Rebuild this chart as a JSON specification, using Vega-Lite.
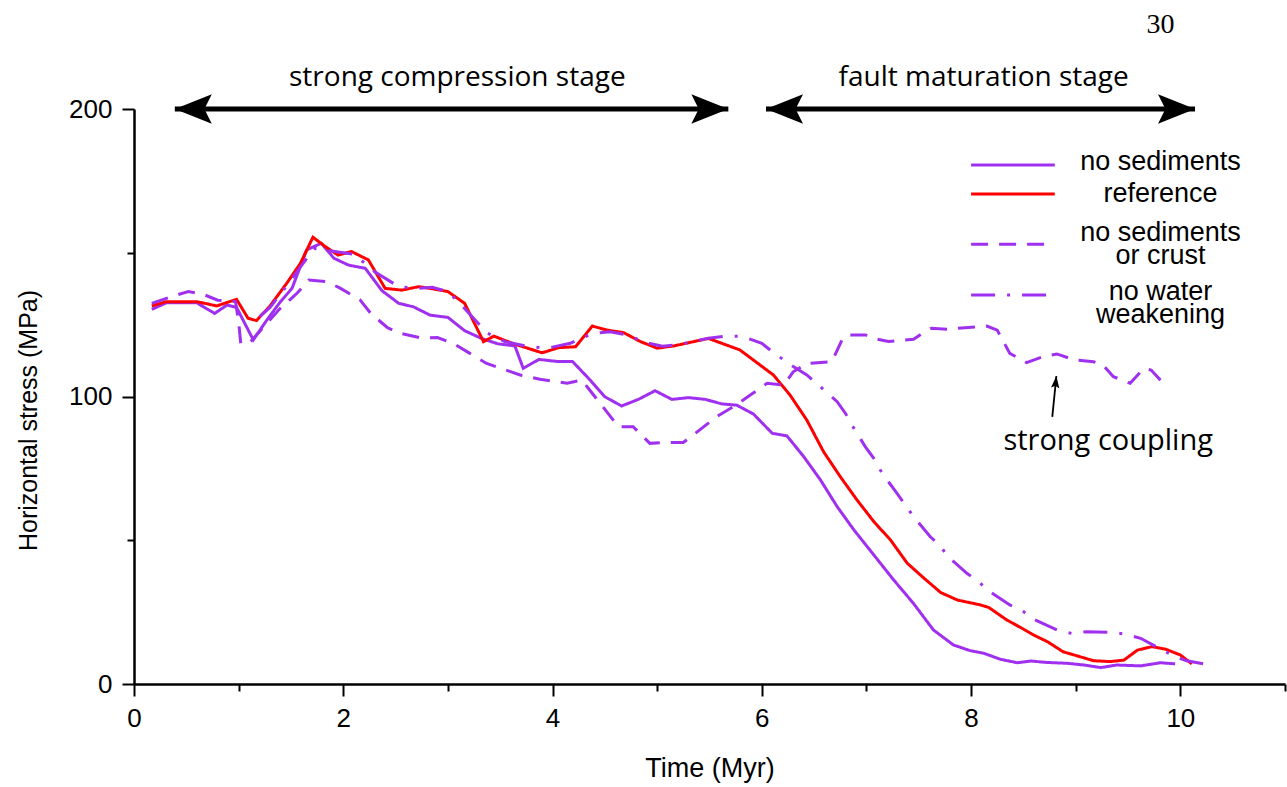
{
  "$schema": "https://vega.github.io/schema/vega-lite/v6.json",
  "width": 1151,
  "height": 575,
  "autosize": "none",
  "padding": {"left": 134, "top": 109, "right": 2, "bottom": 103},
  "background": "white",
  "config": {
    "view": {"stroke": null},
    "font": "Liberation Sans",
    "axis": {"labelFont": "Liberation Sans", "labelFontSize": 26, "titleFont": "Liberation Sans", "titleFontSize": 26, "titleFontWeight": "normal", "labelColor": "black", "titleColor": "black", "grid": false}
  },
  "datasets": {
    "series": [
      {"series":"no sediments","t":0.17,"stress":130.3},{"series":"no sediments","t":0.31,"stress":132.6},{"series":"no sediments","t":0.6,"stress":132.6},{"series":"no sediments","t":0.77,"stress":128.9},{"series":"no sediments","t":0.89,"stress":131.8},{"series":"no sediments","t":0.98,"stress":131.0},{"series":"no sediments","t":1.14,"stress":119.7},{"series":"no sediments","t":1.27,"stress":126.6},{"series":"no sediments","t":1.4,"stress":133.0},{"series":"no sediments","t":1.51,"stress":137.6},{"series":"no sediments","t":1.65,"stress":151.0},{"series":"no sediments","t":1.79,"stress":153.3},{"series":"no sediments","t":1.91,"stress":148.1},{"series":"no sediments","t":2.05,"stress":145.7},{"series":"no sediments","t":2.21,"stress":144.6},{"series":"no sediments","t":2.37,"stress":136.8},{"series":"no sediments","t":2.53,"stress":132.4},{"series":"no sediments","t":2.67,"stress":131.2},{"series":"no sediments","t":2.83,"stress":128.3},{"series":"no sediments","t":3.0,"stress":127.5},{"series":"no sediments","t":3.16,"stress":122.9},{"series":"no sediments","t":3.32,"stress":120.2},{"series":"no sediments","t":3.48,"stress":118.3},{"series":"no sediments","t":3.64,"stress":117.6},{"series":"no sediments","t":3.72,"stress":109.8},{"series":"no sediments","t":3.87,"stress":112.9},{"series":"no sediments","t":4.04,"stress":112.2},{"series":"no sediments","t":4.19,"stress":112.2},{"series":"no sediments","t":4.36,"stress":105.7},{"series":"no sediments","t":4.5,"stress":99.9},{"series":"no sediments","t":4.66,"stress":96.7},{"series":"no sediments","t":4.82,"stress":99.0},{"series":"no sediments","t":4.98,"stress":102.0},{"series":"no sediments","t":5.14,"stress":99.0},{"series":"no sediments","t":5.3,"stress":99.6},{"series":"no sediments","t":5.46,"stress":99.0},{"series":"no sediments","t":5.62,"stress":97.4},{"series":"no sediments","t":5.76,"stress":97.0},{"series":"no sediments","t":5.92,"stress":93.9},{"series":"no sediments","t":6.1,"stress":87.2},{"series":"no sediments","t":6.24,"stress":86.3},{"series":"no sediments","t":6.4,"stress":79.1},{"series":"no sediments","t":6.56,"stress":71.0},{"series":"no sediments","t":6.72,"stress":61.7},{"series":"no sediments","t":6.88,"stress":53.6},{"series":"no sediments","t":7.07,"stress":44.9},{"series":"no sediments","t":7.26,"stress":36.2},{"series":"no sediments","t":7.45,"stress":28.0},{"series":"no sediments","t":7.64,"stress":18.8},{"series":"no sediments","t":7.83,"stress":13.6},{"series":"no sediments","t":7.99,"stress":11.6},{"series":"no sediments","t":8.12,"stress":10.7},{"series":"no sediments","t":8.28,"stress":8.6},{"series":"no sediments","t":8.44,"stress":7.4},{"series":"no sediments","t":8.57,"stress":8.0},{"series":"no sediments","t":8.72,"stress":7.5},{"series":"no sediments","t":8.92,"stress":7.2},{"series":"no sediments","t":9.08,"stress":6.6},{"series":"no sediments","t":9.24,"stress":5.7},{"series":"no sediments","t":9.39,"stress":6.6},{"series":"no sediments","t":9.62,"stress":6.3},{"series":"no sediments","t":9.81,"stress":7.4},{"series":"no sediments","t":9.95,"stress":7.0},

      {"series":"reference","t":0.17,"stress":131.5},{"series":"reference","t":0.31,"stress":133.0},{"series":"reference","t":0.6,"stress":133.0},{"series":"reference","t":0.79,"stress":131.5},{"series":"reference","t":0.98,"stress":133.8},{"series":"reference","t":1.09,"stress":127.2},{"series":"reference","t":1.17,"stress":126.4},{"series":"reference","t":1.3,"stress":131.5},{"series":"reference","t":1.46,"stress":139.4},{"series":"reference","t":1.59,"stress":146.3},{"series":"reference","t":1.71,"stress":155.4},{"series":"reference","t":1.83,"stress":152.1},{"series":"reference","t":1.95,"stress":149.2},{"series":"reference","t":2.08,"stress":150.4},{"series":"reference","t":2.24,"stress":147.5},{"series":"reference","t":2.4,"stress":137.6},{"series":"reference","t":2.56,"stress":137.0},{"series":"reference","t":2.72,"stress":138.2},{"series":"reference","t":2.83,"stress":137.6},{"series":"reference","t":3.0,"stress":136.5},{"series":"reference","t":3.16,"stress":132.4},{"series":"reference","t":3.34,"stress":119.1},{"series":"reference","t":3.44,"stress":121.0},{"series":"reference","t":3.63,"stress":118.3},{"series":"reference","t":3.9,"stress":115.2},{"series":"reference","t":4.06,"stress":117.0},{"series":"reference","t":4.22,"stress":117.3},{"series":"reference","t":4.38,"stress":124.5},{"series":"reference","t":4.52,"stress":123.1},{"series":"reference","t":4.68,"stress":122.2},{"series":"reference","t":4.84,"stress":119.1},{"series":"reference","t":5.0,"stress":116.8},{"series":"reference","t":5.16,"stress":117.6},{"series":"reference","t":5.49,"stress":120.2},{"series":"reference","t":5.79,"stress":116.2},{"series":"reference","t":6.11,"stress":107.5},{"series":"reference","t":6.27,"stress":100.5},{"series":"reference","t":6.43,"stress":91.8},{"series":"reference","t":6.59,"stress":80.8},{"series":"reference","t":6.75,"stress":72.1},{"series":"reference","t":6.91,"stress":64.0},{"series":"reference","t":7.07,"stress":56.5},{"series":"reference","t":7.23,"stress":50.1},{"series":"reference","t":7.39,"stress":42.0},{"series":"reference","t":7.55,"stress":36.8},{"series":"reference","t":7.71,"stress":31.8},{"series":"reference","t":7.87,"stress":29.2},{"series":"reference","t":8.09,"stress":27.5},{"series":"reference","t":8.17,"stress":26.6},{"series":"reference","t":8.34,"stress":22.3},{"series":"reference","t":8.47,"stress":19.7},{"series":"reference","t":8.6,"stress":17.0},{"series":"reference","t":8.73,"stress":14.7},{"series":"reference","t":8.88,"stress":11.2},{"series":"reference","t":9.04,"stress":9.5},{"series":"reference","t":9.17,"stress":8.1},{"series":"reference","t":9.33,"stress":7.8},{"series":"reference","t":9.46,"stress":8.3},{"series":"reference","t":9.59,"stress":11.8},{"series":"reference","t":9.73,"stress":13.0},{"series":"reference","t":9.86,"stress":12.1},{"series":"reference","t":10.0,"stress":10.1},{"series":"reference","t":10.11,"stress":7.0},

      {"series":"no sediments or crust","t":0.17,"stress":132.4},{"series":"no sediments or crust","t":0.38,"stress":135.0},{"series":"no sediments or crust","t":0.52,"stress":136.5},{"series":"no sediments or crust","t":0.65,"stress":135.7},{"series":"no sediments or crust","t":0.8,"stress":133.5},{"series":"no sediments or crust","t":0.97,"stress":133.0},{"series":"no sediments or crust","t":1.0,"stress":126.0},{"series":"no sediments or crust","t":1.02,"stress":118.5},{"series":"no sediments or crust","t":1.1,"stress":118.5},{"series":"no sediments or crust","t":1.38,"stress":130.0},{"series":"no sediments or crust","t":1.56,"stress":136.0},{"series":"no sediments or crust","t":1.67,"stress":140.5},{"series":"no sediments or crust","t":1.84,"stress":140.0},{"series":"no sediments or crust","t":1.97,"stress":137.7},{"series":"no sediments or crust","t":2.16,"stress":133.6},{"series":"no sediments or crust","t":2.26,"stress":129.0},{"series":"no sediments or crust","t":2.42,"stress":124.0},{"series":"no sediments or crust","t":2.54,"stress":122.0},{"series":"no sediments or crust","t":2.75,"stress":120.3},{"series":"no sediments or crust","t":2.9,"stress":120.5},{"series":"no sediments or crust","t":3.05,"stress":118.5},{"series":"no sediments or crust","t":3.21,"stress":115.0},{"series":"no sediments or crust","t":3.37,"stress":111.5},{"series":"no sediments or crust","t":3.53,"stress":109.5},{"series":"no sediments or crust","t":3.69,"stress":107.5},{"series":"no sediments or crust","t":3.88,"stress":106.0},{"series":"no sediments or crust","t":4.14,"stress":104.6},{"series":"no sediments or crust","t":4.28,"stress":105.7},{"series":"no sediments or crust","t":4.33,"stress":103.4},{"series":"no sediments or crust","t":4.63,"stress":89.5},{"series":"no sediments or crust","t":4.77,"stress":89.5},{"series":"no sediments or crust","t":4.93,"stress":83.7},{"series":"no sediments or crust","t":5.08,"stress":84.0},{"series":"no sediments or crust","t":5.25,"stress":84.0},{"series":"no sediments or crust","t":5.57,"stress":93.0},{"series":"no sediments or crust","t":5.73,"stress":96.5},{"series":"no sediments or crust","t":5.89,"stress":100.5},{"series":"no sediments or crust","t":6.05,"stress":104.6},{"series":"no sediments or crust","t":6.21,"stress":104.0},{"series":"no sediments or crust","t":6.3,"stress":108.6},{"series":"no sediments or crust","t":6.43,"stress":111.5},{"series":"no sediments or crust","t":6.67,"stress":112.1},{"series":"no sediments or crust","t":6.78,"stress":120.8},{"series":"no sediments or crust","t":6.86,"stress":121.4},{"series":"no sediments or crust","t":6.99,"stress":121.4},{"series":"no sediments or crust","t":7.07,"stress":120.2},{"series":"no sediments or crust","t":7.21,"stress":119.1},{"series":"no sediments or crust","t":7.45,"stress":119.9},{"series":"no sediments or crust","t":7.56,"stress":122.6},{"series":"no sediments or crust","t":7.62,"stress":123.7},{"series":"no sediments or crust","t":7.77,"stress":123.4},{"series":"no sediments or crust","t":8.15,"stress":124.5},{"series":"no sediments or crust","t":8.25,"stress":123.1},{"series":"no sediments or crust","t":8.37,"stress":115.0},{"series":"no sediments or crust","t":8.53,"stress":111.8},{"series":"no sediments or crust","t":8.69,"stress":113.9},{"series":"no sediments or crust","t":8.82,"stress":114.8},{"series":"no sediments or crust","t":8.99,"stress":112.7},{"series":"no sediments or crust","t":9.17,"stress":112.1},{"series":"no sediments or crust","t":9.26,"stress":111.0},{"series":"no sediments or crust","t":9.36,"stress":106.9},{"series":"no sediments or crust","t":9.52,"stress":104.6},{"series":"no sediments or crust","t":9.65,"stress":109.8},{"series":"no sediments or crust","t":9.72,"stress":109.2},{"series":"no sediments or crust","t":9.81,"stress":105.7},

      {"series":"no water weakening","t":1.2,"stress":127.8},{"series":"no water weakening","t":1.3,"stress":131.0},{"series":"no water weakening","t":1.46,"stress":138.5},{"series":"no water weakening","t":1.6,"stress":145.5},{"series":"no water weakening","t":1.72,"stress":151.5},{"series":"no water weakening","t":1.9,"stress":150.5},{"series":"no water weakening","t":2.1,"stress":149.5},{"series":"no water weakening","t":2.2,"stress":146.5},{"series":"no water weakening","t":2.3,"stress":143.4},{"series":"no water weakening","t":2.53,"stress":138.2},{"series":"no water weakening","t":2.7,"stress":137.6},{"series":"no water weakening","t":2.85,"stress":138.0},{"series":"no water weakening","t":3.0,"stress":136.5},{"series":"no water weakening","t":3.13,"stress":131.8},{"series":"no water weakening","t":3.26,"stress":126.6},{"series":"no water weakening","t":3.38,"stress":122.0},{"series":"no water weakening","t":3.55,"stress":119.0},{"series":"no water weakening","t":3.75,"stress":117.5},{"series":"no water weakening","t":3.95,"stress":116.8},{"series":"no water weakening","t":4.17,"stress":118.5},{"series":"no water weakening","t":4.39,"stress":122.0},{"series":"no water weakening","t":4.55,"stress":122.5},{"series":"no water weakening","t":4.7,"stress":121.5},{"series":"no water weakening","t":4.9,"stress":118.7},{"series":"no water weakening","t":5.05,"stress":117.5},{"series":"no water weakening","t":5.2,"stress":118.0},{"series":"no water weakening","t":5.49,"stress":120.3},{"series":"no water weakening","t":5.67,"stress":121.0},{"series":"no water weakening","t":5.79,"stress":121.0},{"series":"no water weakening","t":5.87,"stress":120.2},{"series":"no water weakening","t":6.0,"stress":118.5},{"series":"no water weakening","t":6.11,"stress":115.3},{"series":"no water weakening","t":6.3,"stress":110.4},{"series":"no water weakening","t":6.43,"stress":107.5},{"series":"no water weakening","t":6.54,"stress":104.0},{"series":"no water weakening","t":6.72,"stress":98.2},{"series":"no water weakening","t":6.8,"stress":94.1},{"series":"no water weakening","t":6.86,"stress":90.1},{"series":"no water weakening","t":6.99,"stress":82.5},{"series":"no water weakening","t":7.07,"stress":78.5},{"series":"no water weakening","t":7.15,"stress":73.3},{"series":"no water weakening","t":7.28,"stress":66.9},{"series":"no water weakening","t":7.36,"stress":62.8},{"series":"no water weakening","t":7.45,"stress":58.2},{"series":"no water weakening","t":7.61,"stress":51.2},{"series":"no water weakening","t":7.7,"stress":48.3},{"series":"no water weakening","t":7.78,"stress":44.3},{"series":"no water weakening","t":7.96,"stress":38.5},{"series":"no water weakening","t":8.07,"stress":35.6},{"series":"no water weakening","t":8.18,"stress":32.1},{"series":"no water weakening","t":8.37,"stress":27.5},{"series":"no water weakening","t":8.5,"stress":25.2},{"series":"no water weakening","t":8.61,"stress":22.3},{"series":"no water weakening","t":8.82,"stress":18.8},{"series":"no water weakening","t":8.96,"stress":17.6},{"series":"no water weakening","t":9.11,"stress":18.2},{"series":"no water weakening","t":9.35,"stress":17.9},{"series":"no water weakening","t":9.47,"stress":17.4},{"series":"no water weakening","t":9.62,"stress":15.9},{"series":"no water weakening","t":9.83,"stress":11.8},{"series":"no water weakening","t":9.95,"stress":9.5},{"series":"no water weakening","t":10.06,"stress":8.1},{"series":"no water weakening","t":10.32,"stress":6.3}
    ],
    "legendLines": [
      {"series":"no sediments","t":8.0,"stress":180.5},{"series":"no sediments","t":8.8,"stress":180.5},
      {"series":"reference","t":8.0,"stress":170.4},{"series":"reference","t":8.8,"stress":170.4},
      {"series":"no sediments or crust","t":8.0,"stress":153.0},{"series":"no sediments or crust","t":8.8,"stress":153.0},
      {"series":"no water weakening","t":8.0,"stress":135.3},{"series":"no water weakening","t":8.8,"stress":135.3}
    ],
    "legendText": [
      {"text":["no sediments"],"t":9.81,"stress":181.6},
      {"text":["reference"],"t":9.81,"stress":170.4},
      {"text":["no sediments","or crust"],"t":9.81,"stress":156.7},
      {"text":["no water","weakening"],"t":9.81,"stress":136.2}
    ],
    "stages": [
      {"stage":"strong compression stage","t0":0.39,"t1":5.68,"tm":3.09,"stress":200,"label":210.8},
      {"stage":"fault maturation stage","t0":6.04,"t1":10.14,"tm":8.12,"stress":200,"label":210.8}
    ],
    "coupling": [
      {"text":"strong coupling","t":9.31,"stress":84.5,"t0":8.776,"s0":92.9,"t1":8.815,"s1":107.1}
    ],
    "page": [
      {"text":"30","t":9.81,"stress":229.2}
    ]
  },
  "layer": [
    {
      "data": {"name": "series"},
      "mark": {"type": "line", "strokeWidth": 3, "strokeCap": "butt", "strokeJoin": "miter"},
      "encoding": {
        "x": {"field": "t", "type": "quantitative",
          "scale": {"domain": [0, 11], "nice": false, "zero": false},
          "axis": {
            "values": [0,1,2,3,4,5,6,7,8,9,10,11],
            "format": "d",
            "labelExpr": "datum.value % 2 === 0 ? datum.label : ''",
            "tickSize": {"condition": {"test": "datum.value % 2 === 0", "value": 12}, "value": 7},
            "grid": false, "domainColor": "black", "domainWidth": 2.5, "tickColor": "black", "tickWidth": 2,
            "labelFontSize": 26, "labelColor": "black", "labelPadding": 9, "labelFlush": false, "labelOverlap": false,
            "title": "Time (Myr)", "titleFontSize": 27, "titleFontWeight": "normal", "titleColor": "black", "titlePadding": 24
          }
        },
        "y": {"field": "stress", "type": "quantitative",
          "scale": {"domain": [0, 200], "nice": false, "zero": true},
          "axis": {
            "values": [0, 50, 100, 150, 200],
            "format": "d",
            "labelExpr": "datum.value % 100 === 0 ? datum.label : ''",
            "tickSize": {"condition": {"test": "datum.value % 100 === 0", "value": 12}, "value": 7},
            "grid": false, "domainColor": "black", "domainWidth": 2.5, "tickColor": "black", "tickWidth": 2,
            "labelFontSize": 26, "labelColor": "black", "labelPadding": 10, "labelFlush": false, "labelOverlap": false,
            "title": "Horizontal stress (MPa)", "titleFontSize": 25, "titleFontWeight": "normal", "titleColor": "black",
            "titleX": -106, "titleY": 311, "titleAngle": 270, "titleAlign": "center", "titleBaseline": "middle"
          }
        },
        "color": {"field": "series", "type": "nominal",
          "scale": {"domain": ["no sediments", "reference", "no sediments or crust", "no water weakening"],
                    "range": ["#a030f0", "#ff0000", "#a030f0", "#a030f0"]},
          "legend": null},
        "strokeDash": {"field": "series", "type": "nominal",
          "scale": {"domain": ["no sediments", "reference", "no sediments or crust", "no water weakening"],
                    "range": [[1, 0], [1, 0], [17, 11], [24, 12, 3, 12]]},
          "legend": null}
      }
    },
    {
      "data": {"name": "legendLines"},
      "mark": {"type": "line", "strokeWidth": 3, "strokeCap": "butt"},
      "encoding": {
        "x": {"field": "t", "type": "quantitative", "title": "Time (Myr)"},
        "y": {"field": "stress", "type": "quantitative", "title": "Horizontal stress (MPa)"},
        "color": {"field": "series", "type": "nominal", "legend": null},
        "strokeDash": {"field": "series", "type": "nominal", "legend": null}
      }
    },
    {
      "data": {"name": "legendText"},
      "mark": {"type": "text", "font": "Liberation Sans", "fontSize": 27, "lineHeight": 23, "align": "center", "baseline": "middle", "color": "black"},
      "encoding": {
        "x": {"field": "t", "type": "quantitative", "title": "Time (Myr)"},
        "y": {"field": "stress", "type": "quantitative", "title": "Horizontal stress (MPa)"},
        "text": {"field": "text"}
      }
    },
    {
      "data": {"name": "stages"},
      "mark": {"type": "rule", "strokeWidth": 5, "color": "black"},
      "encoding": {
        "x": {"field": "t0", "type": "quantitative", "title": "Time (Myr)"},
        "x2": {"field": "t1"},
        "y": {"field": "stress", "type": "quantitative", "title": "Horizontal stress (MPa)"}
      }
    },
    {
      "data": {"name": "stages"},
      "mark": {"type": "point", "shape": "M0,0L2,-0.8L1.6,0L2,0.8Z", "size": 1369, "filled": true, "color": "black", "opacity": 1, "strokeWidth": 0},
      "encoding": {
        "x": {"field": "t0", "type": "quantitative", "title": "Time (Myr)"},
        "y": {"field": "stress", "type": "quantitative", "title": "Horizontal stress (MPa)"}
      }
    },
    {
      "data": {"name": "stages"},
      "mark": {"type": "point", "shape": "M0,0L-2,-0.8L-1.6,0L-2,0.8Z", "size": 1369, "filled": true, "color": "black", "opacity": 1, "strokeWidth": 0},
      "encoding": {
        "x": {"field": "t1", "type": "quantitative", "title": "Time (Myr)"},
        "y": {"field": "stress", "type": "quantitative", "title": "Horizontal stress (MPa)"}
      }
    },
    {
      "data": {"name": "stages"},
      "mark": {"type": "text", "font": "Open Sans", "fontSize": 28, "align": "center", "baseline": "middle", "color": "black"},
      "encoding": {
        "x": {"field": "tm", "type": "quantitative", "title": "Time (Myr)"},
        "y": {"field": "label", "type": "quantitative", "title": "Horizontal stress (MPa)"},
        "text": {"field": "stage"}
      }
    },
    {
      "data": {"name": "coupling"},
      "mark": {"type": "text", "font": "Open Sans", "fontSize": 29, "align": "center", "baseline": "middle", "color": "black"},
      "encoding": {
        "x": {"field": "t", "type": "quantitative", "title": "Time (Myr)"},
        "y": {"field": "stress", "type": "quantitative", "title": "Horizontal stress (MPa)"},
        "text": {"field": "text"}
      }
    },
    {
      "data": {"name": "coupling"},
      "mark": {"type": "rule", "strokeWidth": 1.8, "color": "black"},
      "encoding": {
        "x": {"field": "t0", "type": "quantitative", "title": "Time (Myr)"},
        "x2": {"field": "t1"},
        "y": {"field": "s0", "type": "quantitative", "title": "Horizontal stress (MPa)"},
        "y2": {"field": "s1"}
      }
    },
    {
      "data": {"name": "coupling"},
      "mark": {"type": "point", "shape": "M0,0L0.7,2L0,1.6L-0.7,2Z", "size": 144, "angle": 5.6, "filled": true, "color": "black", "opacity": 1, "strokeWidth": 0},
      "encoding": {
        "x": {"field": "t1", "type": "quantitative", "title": "Time (Myr)"},
        "y": {"field": "s1", "type": "quantitative", "title": "Horizontal stress (MPa)"}
      }
    },
    {
      "data": {"name": "page"},
      "mark": {"type": "text", "font": "Liberation Serif", "fontSize": 28, "align": "center", "baseline": "middle", "color": "black"},
      "encoding": {
        "x": {"field": "t", "type": "quantitative", "title": "Time (Myr)"},
        "y": {"field": "stress", "type": "quantitative", "title": "Horizontal stress (MPa)"},
        "text": {"field": "text"}
      }
    }
  ]
}
